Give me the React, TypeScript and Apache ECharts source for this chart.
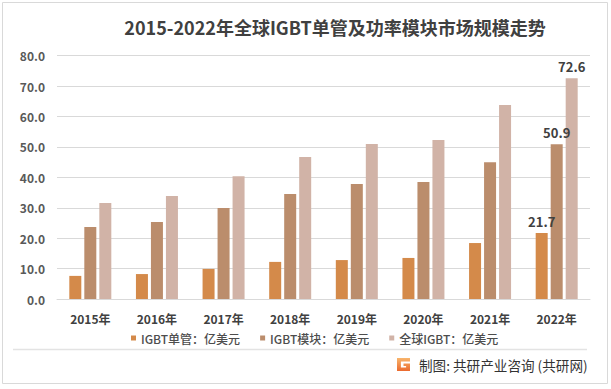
import React, { useEffect, useRef } from "react";
import * as echarts from "echarts";

const categories = ["2015年", "2016年", "2017年", "2018年", "2019年", "2020年", "2021年", "2022年"];
const singleValues = [7.6, 8.2, 9.9, 12.2, 12.8, 13.5, 18.4, 21.7];
const moduleValues = [23.7, 25.3, 29.9, 34.5, 37.8, 38.5, 45.0, 50.9];
const globalValues = [31.6, 33.9, 40.4, 46.7, 51.0, 52.3, 63.8, 72.6];
const seriesNames = ["IGBT单管：亿美元", "IGBT模块：亿美元", "全球IGBT：亿美元"];
const colors = ["#D48A4A", "#BB8D6C", "#D1B3A7"];

const FONT = "'Noto Sans CJK SC', 'Noto Sans', sans-serif";

echarts.graphic.registerShape(
  "gLogo",
  echarts.graphic.extendPath(
    "M0 0 H100 V26 H30 V74 H70 V62 H50 V42 H100 V100 H0 Z",
    {}
  )
);

export default function App() {
  const ref = useRef<HTMLDivElement>(null);

  useEffect(() => {
    document.body.style.margin = "0";
    if (!ref.current) return;
    const chart = echarts.init(ref.current, undefined, { renderer: "svg" });

    const mkData = (vals: number[]) =>
      vals.map((v, i) => ({
        value: v,
        label: {
          show: i === vals.length - 1,
          position: "top",
          distance: 5,
          fontFamily: FONT,
          fontWeight: "bold",
          fontSize: 13,
          color: "#404040",
          formatter: (p: any) => Number(p.value).toFixed(1),
        },
      }));

    const valueSets = [singleValues, moduleValues, globalValues];

    chart.setOption({
      animation: false,
      backgroundColor: "#ffffff",
      grid: { left: 57, right: 21, top: 55.7, bottom: 90, containLabel: false },
      legend: {
        left: 126,
        top: 327,
        itemWidth: 5,
        itemHeight: 5,
        itemGap: 20,
        icon: "rect",
        textStyle: { fontFamily: FONT, fontSize: 12, color: "#4d4d4d", fontWeight: 500 },
        data: seriesNames,
      },
      xAxis: {
        type: "category",
        data: categories,
        axisLine: { lineStyle: { color: "#d9d9d9", width: 1 } },
        axisTick: { show: false },
        axisLabel: {
          margin: 13,
          fontFamily: FONT,
          fontWeight: "bold",
          fontSize: 12,
          color: "#404040",
        },
      },
      yAxis: {
        type: "value",
        min: 0,
        max: 80,
        interval: 10,
        axisLine: { show: false },
        axisTick: { show: false },
        splitLine: { lineStyle: { color: "#d9d9d9", width: 1 } },
        axisLabel: {
          margin: 12,
          fontFamily: FONT,
          fontWeight: "bold",
          fontSize: 12,
          color: "#595959",
          formatter: (v: number) => v.toFixed(1),
        },
      },
      series: seriesNames.map((name, idx) => ({
        name,
        type: "bar",
        barWidth: 12,
        barGap: "25%",
        itemStyle: { color: colors[idx] },
        data: mkData(valueSets[idx]),
      })),
      graphic: [
        {
          type: "rect",
          shape: { x: 2.5, y: 2.5, width: 605, height: 381 },
          style: { fill: "none", stroke: "#d9d9d9", lineWidth: 1 },
          silent: true,
          z: -1,
        },
        {
          type: "text",
          x: 335,
          y: 27,
          style: {
            text: "2015-2022年全球IGBT单管及功率模块市场规模走势",
            fontFamily: FONT,
            fontWeight: "bold",
            fontSize: 18,
            fill: "#404040",
            textAlign: "center",
            textVerticalAlign: "middle",
          },
        },
        {
          type: "line",
          shape: { x1: 13, y1: 349.5, x2: 587, y2: 349.5 },
          style: { stroke: "#e3e3e3", lineWidth: 1.5 },
          silent: true,
        },
        {
          type: "gLogo",
          x: 397,
          y: 358,
          scaleX: 0.13,
          scaleY: 0.13,
          style: {
            fill: new echarts.graphic.LinearGradient(0, 0, 0, 1, [
              { offset: 0, color: "#F8B56C" },
              { offset: 1, color: "#EB6A2E" },
            ]),
          },
        },
        {
          type: "text",
          x: 419,
          y: 365,
          style: {
            text: "制图: 共研产业咨询 (共研网)",
            fontFamily: FONT,
            fontSize: 13.6,
            fill: "#333333",
            textAlign: "left",
            textVerticalAlign: "middle",
          },
        },
      ],
    });

    return () => chart.dispose();
  }, []);

  return <div ref={ref} style={{ width: 611, height: 389 }} />;
}
